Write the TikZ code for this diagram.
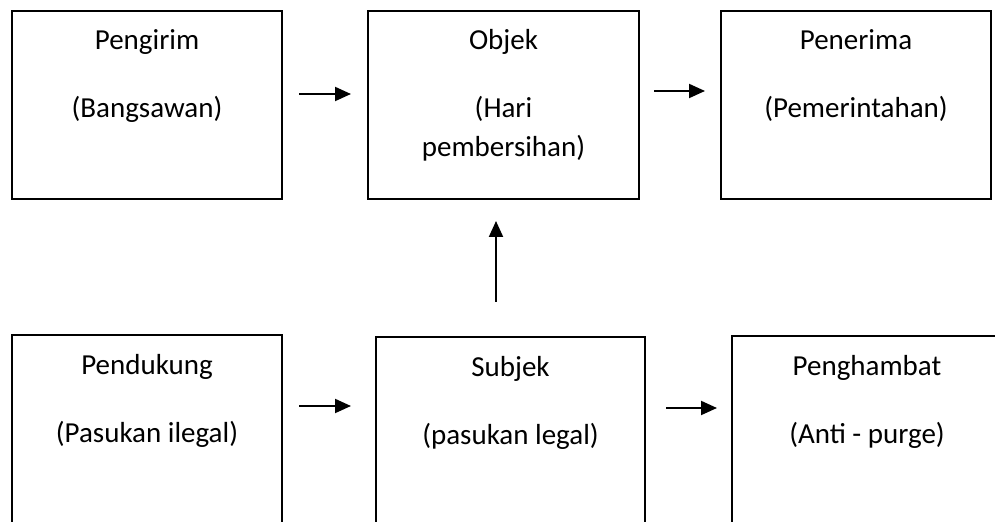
\documentclass[tikz,border=0pt]{standalone}
\usepackage{fontspec}
\setmainfont{Carlito}
\usetikzlibrary{arrows.meta}

\tikzset{
  kotak/.style={draw, line width=1pt, inner sep=0pt, minimum width=135pt, minimum height=94pt},
  kotakbawah/.style={kotak, minimum height=100pt},
  teks/.style={align=center, inner sep=0pt, anchor=north, font=\fontsize{14.5}{19.5}\selectfont},
  panah/.style={line width=1pt, -{Triangle[length=8pt,width=7pt]}}
}

\begin{document}
\begin{tikzpicture}[x=0.5pt,y=-0.5pt]
  \useasboundingbox (0,0) rectangle (995,522);
  \clip (0,0) rectangle (995,522);

  % Baris atas
  \node[kotak] (pengirim) at (147,105) {};
  \node[kotak, minimum width=135.5pt] (objek) at (503.5,105) {};
  \node[kotak] (penerima) at (856,105) {};
  \node[teks] (pengirimT) at ([yshift=-9.5pt]pengirim.north) {Pengirim\\[14.5pt](Bangsawan)};
  \node[teks] (objekT) at ([yshift=-9.5pt]objek.north) {Objek\\[14.5pt](Hari\\pembersihan)};
  \node[teks] (penerimaT) at ([yshift=-9.5pt]penerima.north) {Penerima\\[14.5pt](Pemerintahan)};

  % Baris bawah
  \node[kotakbawah] (pendukung) at (147,435) {};
  \node[kotakbawah, minimum width=134.5pt] (subjek) at (510.5,437) {};
  \node[kotakbawah] (penghambat) at (867,436) {};
  \node[teks] (pendukungT) at ([yshift=-10pt]pendukung.north) {Pendukung\\[14.5pt](Pasukan ilegal)};
  \node[teks] (subjekT) at ([yshift=-10pt]subjek.north) {Subjek\\[14.5pt](pasukan legal)};
  \node[teks] (penghambatT) at ([yshift=-10pt]penghambat.north) {Penghambat\\[14.5pt](Anti - purge)};

  % Panah
  \draw[panah, shorten <=8pt, shorten >=8pt] ([yshift=5.5pt]pengirim.east) -- ([yshift=5.5pt]pengirim.east -| objek.west);
  \draw[panah, shorten <=7pt, shorten >=7.5pt] ([yshift=7pt]objek.east) -- ([yshift=7pt]objek.east -| penerima.west);
  \draw[panah, shorten <=8pt, shorten >=12pt] ([yshift=-36pt]pendukung.north east) -- ([yshift=-36pt]pendukung.north east -| subjek.west);
  \draw[panah, shorten <=10pt, shorten >=7pt] ([yshift=-36pt]subjek.north east) -- ([yshift=-36pt]subjek.north east -| penghambat.west);
  \draw[panah, shorten <=17pt, shorten >=10.5pt] ([xshift=-3.75pt]objek.south |- subjek.north) -- ([xshift=-3.75pt]objek.south);
\end{tikzpicture}
\end{document}
